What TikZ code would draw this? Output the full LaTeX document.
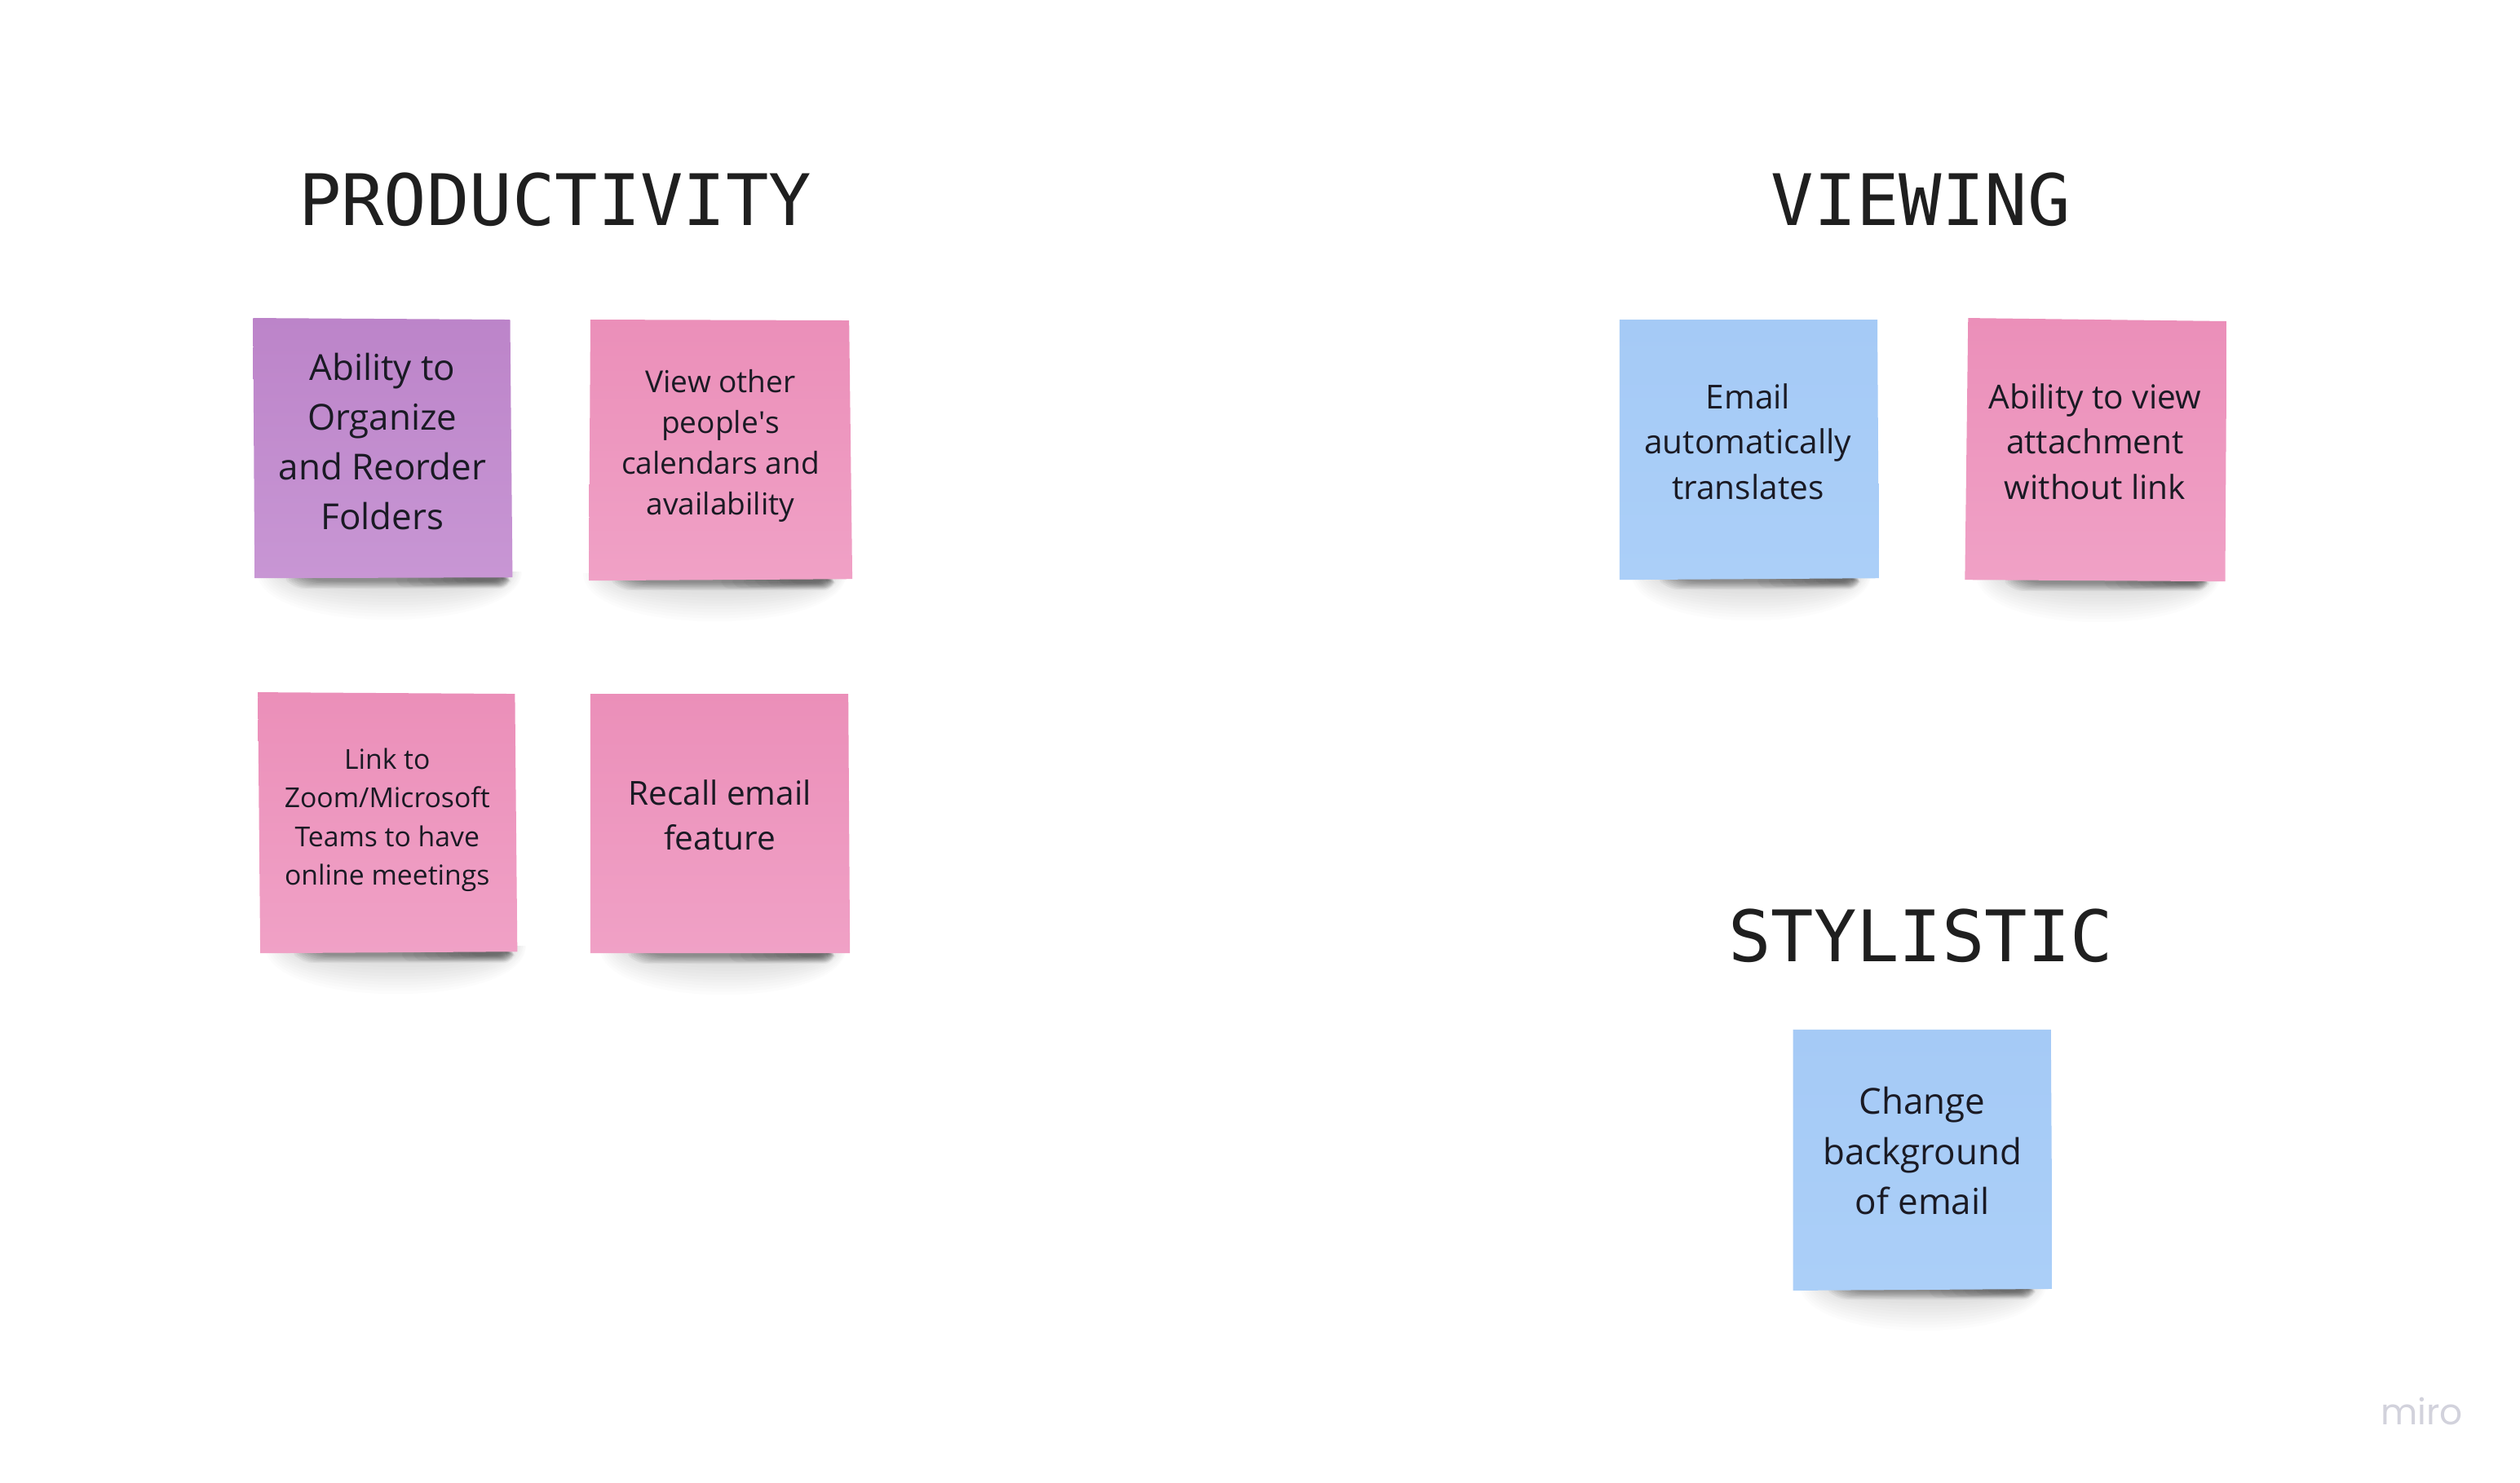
\documentclass[tikz,border=0pt]{standalone}
\usepackage{fontspec}
\setmainfont{Open Sans}
\newfontfamily\aposfont{Open Sans}
\newfontfamily\headfont{DejaVu Sans Mono}
\newfontfamily\logofont{Poppins}
\definecolor{ink}{HTML}{1A1A24}
\definecolor{purpleT}{HTML}{BC84C9}
\definecolor{purpleB}{HTML}{C896D4}
\definecolor{pinkT}{HTML}{EB8FB9}
\definecolor{pinkB}{HTML}{F0A1C6}
\definecolor{blueT}{HTML}{A5CAF6}
\definecolor{blueB}{HTML}{ABCFF8}
\definecolor{logoc}{HTML}{D2D2DC}
\tikzset{
  heading/.style={font=\headfont\fontsize{24.8}{30}\selectfont,text=black!88,inner sep=0pt,anchor=center},
  stickytext/.style={align=center,text=ink,inner sep=0pt,anchor=center},
  big/.style={font=\fontsize{12.5}{17.4}\selectfont},
  mid/.style={font=\fontsize{11.55}{15.9}\selectfont},
  small/.style={font=\fontsize{10.55}{14.2}\selectfont},
  tiny/.style={font=\fontsize{9.6}{13.45}\selectfont},
}
% #1 left x, #2 right x, #3 bottom y : soft shadow under a note
\newcommand{\softshadow}[3]{%
  \foreach \i in {0,...,13}{%
    \fill[black,opacity=0.012]
      ({#1-30+\i*3},{#3-8}) -- ({#2+14-\i*1.5},{#3-8})
      .. controls ({#2+14-\i*1.5},{#3+72-\i*5}) and ({#1-30+\i*3},{#3+72-\i*5}) .. cycle;
  }%
  \foreach \i in {0,...,8}{%
    \fill[black,opacity=0.045,rounded corners=4]
      ({#1+\i*3},{#3-6}) -- ({#2-\i*1.2},{#3-6}) --
      ({#2-\i*1.2},{#3+13-\i*1.2}) -- ({#1+14+\i*3},{#3+13-\i*1.2}) -- cycle;
  }%
  \foreach \i in {0,...,6}{%
    \fill[black,opacity=0.035,rounded corners=3]
      ({0.5*(#1+#2)+\i*14},{#3-6}) -- ({#2-2-\i*1},{#3-6}) --
      ({#2-2-\i*1},{#3+11-\i*1}) -- ({0.5*(#1+#2)+\i*14},{#3+11-\i*1}) -- cycle;
  }%
}
\newcommand{\notepaper}[6]{\shade[top color=#5,bottom color=#6] (#1) -- (#2) -- (#3) -- (#4) -- cycle;}
\begin{document}
\begin{tikzpicture}[x=0.00985cm,y=-0.00985cm]
\useasboundingbox[fill=white] (0,0) rectangle (3137,1846);

\node[heading] (hProd) at (691,249) {PRODUCTIVITY};
\node[heading] (hView) at (2391,249) {VIEWING};
\node[heading] (hStyl) at (2391,1165) {STYLISTIC};

\softshadow{350}{636}{720}
\notepaper{315,396}{635,398}{638,719}{317,720}{purpleT}{purpleB}
\node[stickytext,big] (n1) at (476,550) {Ability to\\Organize\\and Reorder\\Folders};

\softshadow{756}{1040}{722}
\notepaper{735,398}{1057,399}{1061,721}{733,723}{pinkT}{pinkB}
\node[stickytext,small] (n2) at (897,555) {View other\\people{\aposfont '}s\\calendars and\\availability};

\softshadow{360}{641}{1186}
\notepaper{321,862}{641,864}{644,1185}{324,1187}{pinkT}{pinkB}
\node[stickytext,tiny] (n3) at (482,1021) {Link to\\Zoom/Microsoft\\Teams to have\\online meetings};

\softshadow{776}{1040}{1187}
\notepaper{735,864}{1056,864}{1058,1187}{735,1187}{pinkT}{pinkB}
\node[stickytext,mid] (n4) at (896,1015) {Recall email\\feature};

\softshadow{2060}{2316}{721}
\notepaper{2016,398}{2337,398}{2339,720}{2016,722}{blueT}{blueB}
\node[stickytext,mid] (n5) at (2176,550) {Email\\automatically\\translates};

\softshadow{2490}{2750}{723}
\notepaper{2450,396}{2772,400}{2770,724}{2446,722}{pinkT}{pinkB}
\node[stickytext,mid] (n6) at (2608,550) {Ability to view\\attachment\\without link};

\softshadow{2270}{2534}{1605}
\notepaper{2232,1282}{2553,1282}{2555,1605}{2232,1607}{blueT}{blueB}
\node[stickytext,big] (n7) at (2393,1433) {Change\\background\\of email};

\node[font=\logofont\fontsize{12.5}{15}\selectfont,text=logoc,inner sep=0pt] (logo) at (3015,1757) {miro};
\end{tikzpicture}
\end{document}
